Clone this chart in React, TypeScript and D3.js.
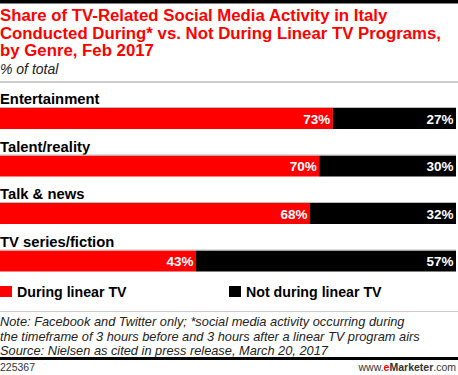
import React from "react";
import * as d3 from "d3";

const categories = ["Entertainment", "Talent/reality", "Talk & news", "TV series/fiction"];
const duringValues = [73, 70, 68, 43];
const notDuringValues = [27, 30, 32, 57];
const seriesNames = ["During linear TV", "Not during linear TV"];
const seriesColors = ["#ff0000", "#000000"];
const titleLines = [
  "Share of TV-Related Social Media Activity in Italy",
  "Conducted During* vs. Not During Linear TV Programs,",
  "by Genre, Feb 2017",
];
const noteLines = [
  "Note: Facebook and Twitter only; *social media activity occurring during",
  "the timeframe of 3 hours before and 3 hours after a linear TV program airs",
  "Source: Nielsen as cited in press release, March 20, 2017",
];

export default function App() {
  const W = 458;
  const H = 375;
  const font = "'Liberation Sans', Arial, sans-serif";
  const x = d3.scaleLinear().domain([0, 100]).range([0, 456]);
  const y = d3.scaleBand<string>().domain(categories).range([108, 298]).paddingInner(0);
  const barH = 21;
  const data = categories.map((c, i) => ({ c, vals: [duringValues[i], notDuringValues[i]] }));
  return (
    <svg width={W} height={H} style={{ position: "absolute", left: 0, top: 0, display: "block" }}>
      <rect x={0} y={0} width={W} height={H} fill="#fff" />
      <rect x={0} y={0} width={W} height={3.5} fill="#000" />
      {titleLines.map((t, i) => (
        <text key={i} x={0} y={21 + i * 17.5} fill="#ff0000" fontFamily={font} fontWeight="bold" fontSize={16.8}>
          {t}
        </text>
      ))}
      <text x={0} y={74} fontFamily={font} fontStyle="italic" fontSize={14} fill="#222">% of total</text>
      <rect x={0} y={81} width={W} height={2} fill="#ccc" />
      {data.map((d, i) => {
        const top = y(d.c)!;
        let acc = 0;
        return (
          <g key={d.c}>
            <text x={0} y={top - 4} fontFamily={font} fontWeight="bold" fontSize={14.8} fill="#000">{d.c}</text>
            {d.vals.map((v, j) => {
              const x0 = x(acc);
              acc += v;
              const x1 = x(acc);
              return (
                <g key={j}>
                  <rect x={x0} y={top} width={x1 - x0} height={barH} fill={seriesColors[j]} />
                  <text x={x1 - 2.5} y={top + 15.5} textAnchor="end" fontFamily={font} fontWeight="bold" fontSize={13.5} fill="#fff">{v}%</text>
                </g>
              );
            })}
            <rect x={0} y={top - 1} width={x(100)} height={1} fill="#bbb" />
          </g>
        );
      })}
      {seriesNames.map((s, i) => (
        <g key={s}>
          <rect x={i === 0 ? 0 : 229} y={286} width={12} height={11} fill={seriesColors[i]} />
          <text x={(i === 0 ? 0 : 229) + 17} y={296.5} fontFamily={font} fontWeight="bold" fontSize={14.2} fill="#000">{s}</text>
        </g>
      ))}
      <rect x={0} y={311} width={W} height={1} fill="#ccc" />
      {noteLines.map((t, i) => (
        <text key={i} x={0} y={326 + i * 14.5} fontFamily={font} fontStyle="italic" fontSize={12.8} fill="#222">{t}</text>
      ))}
      <rect x={0} y={357} width={W} height={3} fill="#000" />
      <text x={0} y={371} fontFamily={font} fontSize={10.5} fill="#333">225367</text>
      <text x={456} y={371} textAnchor="end" fontFamily={font} fontSize={10.5} fill="#333">
        www.<tspan fill="#ff0000" fontWeight="bold">e</tspan><tspan fontWeight="bold">Marketer</tspan>.com
      </text>
    </svg>
  );
}
